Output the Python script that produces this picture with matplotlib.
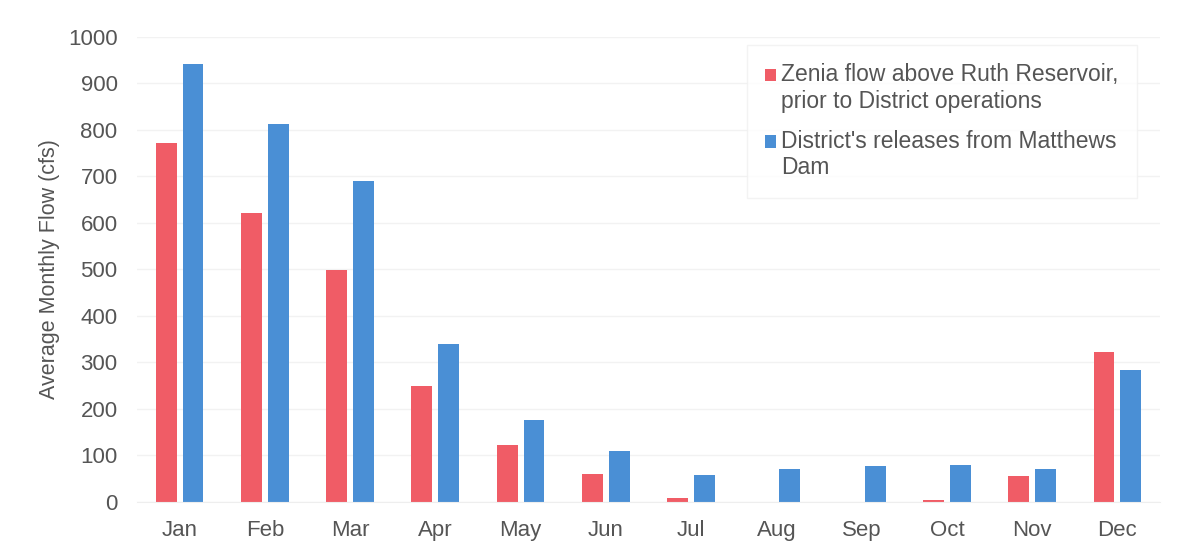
import numpy as np
import matplotlib.pyplot as plt
from matplotlib.patches import Rectangle
from matplotlib.container import BarContainer
from matplotlib.legend_handler import HandlerPatch

plt.rcParams['font.family'] = ['Liberation Sans', 'DejaVu Sans']

months = ['Jan', 'Feb', 'Mar', 'Apr', 'May', 'Jun',
          'Jul', 'Aug', 'Sep', 'Oct', 'Nov', 'Dec']
zenia_flow = [772, 621, 499, 249, 123, 60, 9, 0, 0, 4, 56, 323]
district_releases = [942, 813, 690, 340, 176, 110, 58, 71, 77, 80, 71, 284]

red = '#F05C66'
blue = '#4A8FD5'
text_color = '#555555'


def top_aligned_box(legend, orig_handle, xdescent, ydescent, width, height, fontsize):
    # legend marker sits next to the first line of a two-line label
    return Rectangle((-xdescent, -ydescent + 0.6 * fontsize), width, height)


def copy_bar_style(legend_handle, orig_handle):
    legend_handle.update_from(orig_handle.patches[0])


fig = plt.figure(figsize=(11.91, 5.57), dpi=100)
ax = fig.add_axes([0.115, 0.099, 0.859, 0.835])

x = np.arange(len(months))
w = 0.245
gap = 0.035
ax.bar(x - w / 2 - gap, zenia_flow, width=w, color=red,
       label='Zenia flow above Ruth Reservoir,\nprior to District operations')
ax.bar(x + w / 2 + gap, district_releases, width=w, color=blue,
       label="District's releases from Matthews\nDam")

ax.set_xlim(-0.5, len(months) - 0.5)
ax.set_ylim(0, 1000)
ax.set_yticks(np.arange(0, 1001, 100))
ax.set_xticks(x)
ax.set_xticklabels(months)
ax.tick_params(axis='both', length=0, labelsize=16, colors=text_color)
ax.tick_params(axis='x', pad=13)
ax.tick_params(axis='y', pad=14)
ax.set_ylabel('Average Monthly Flow (cfs)', fontsize=15.5, color=text_color, labelpad=5.5)

ax.yaxis.grid(True, color='#f2f2f2', linewidth=1)
ax.set_axisbelow(True)
for side in ['top', 'right', 'left']:
    ax.spines[side].set_visible(False)
ax.spines['bottom'].set_color('#eeeeee')

bar_handler = HandlerPatch(patch_func=top_aligned_box, update_func=copy_bar_style)
leg = ax.legend(loc='upper right', bbox_to_anchor=(0.9775, 0.983), borderaxespad=0,
                fontsize=16.5, frameon=True, fancybox=False,
                handlelength=0.48, handleheight=0.48, handletextpad=0.22,
                labelspacing=0.75, borderpad=0.8, labelcolor=text_color,
                handler_map={BarContainer: bar_handler})
leg.get_frame().set_edgecolor('#f0f0f0')
leg.get_frame().set_linewidth(1)

fig.savefig('out.png', dpi=100)
